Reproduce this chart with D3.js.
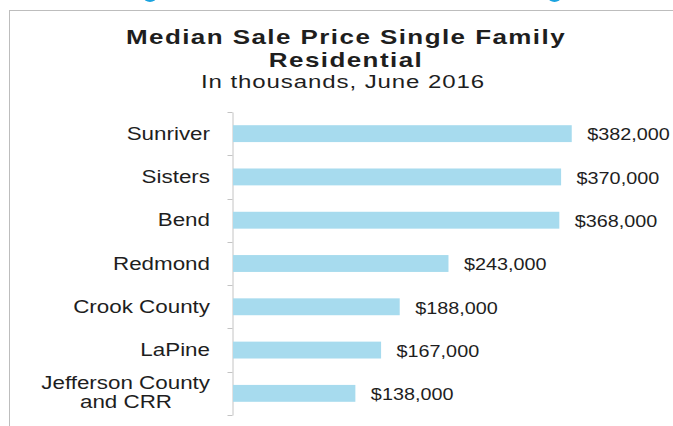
<!DOCTYPE html>
<html>
<head>
<meta charset="utf-8">
<script src="https://cdn.jsdelivr.net/npm/d3@7"></script>
<style>
  body { margin: 0; background: #fff; }
  svg { display: block; }
  text { font-family: "Liberation Sans", Arial, sans-serif; fill: #1e1e1e; }
</style>
</head>
<body>
<div id="chart"></div>
<script>
// median sale price, thousands of dollars
var categories = ["Sunriver", "Sisters", "Bend", "Redmond", "Crook County", "LaPine", "Jefferson County\nand CRR"];
var values = [382, 370, 368, 243, 188, 167, 138];
var titleLines = ["Median Sale Price Single Family", "Residential"];
var subtitle = "In thousands, June 2016";

var width = 673,
    height = 426;

var svg = d3.select("#chart")
  .append("svg")
    .attr("width", width)
    .attr("height", height);

// frame of the slide the chart was cut from
svg.append("line")
  .attr("x1", 9).attr("x2", width)
  .attr("y1", 10.5).attr("y2", 10.5)
  .style("stroke", "#bdbdbd");
svg.append("line")
  .attr("x1", 9.5).attr("x2", 9.5)
  .attr("y1", 10).attr("y2", height)
  .style("stroke", "#bdbdbd");

// bits of the heading above, cut off
[150, 554.5].forEach(function(cx) {
  svg.append("ellipse")
    .attr("cx", cx).attr("cy", -3)
    .attr("rx", 6.5).attr("ry", 5)
    .style("fill", "#1aa3df");
});

// title
titleLines.forEach(function(t, i) {
  svg.append("g")
    .attr("transform", "translate(346," + (44 + i * 23) + ") scale(1.3,1)")
    .append("text")
      .attr("text-anchor", "middle")
      .style("font-size", "20px")
      .style("font-weight", "bold")
      .style("letter-spacing", "1.1px")
      .text(t);
});
svg.append("g")
  .attr("transform", "translate(343,88) scale(1.3,1)")
  .append("text")
    .attr("text-anchor", "middle")
    .style("font-size", "18.5px")
    .style("letter-spacing", "0.7px")
    .text(subtitle);

var x = d3.scaleLinear()
  .domain([0, 400])
  .range([233, 587.7]);

var y = d3.scaleBand()
  .domain(categories)
  .range([112, 415])
  .paddingInner(0.61)
  .paddingOuter(0.305);

// axis line
svg.append("g")
  .attr("transform", "translate(232.5,0)")
  .call(d3.axisLeft(y).tickSize(0).tickSizeOuter(0).tickFormat(""))
  .call(function(g) { g.select(".domain").style("stroke", "#c4c4c4"); });

// ticks between categories
svg.append("g")
  .selectAll("line")
  .data(d3.range(categories.length + 1))
  .join("line")
    .attr("x1", 227.5).attr("x2", 232.5)
    .attr("y1", function(i) { return Math.round(y.range()[0] + i * y.step()) + 0.5; })
    .attr("y2", function(i) { return Math.round(y.range()[0] + i * y.step()) + 0.5; })
    .style("stroke", "#c4c4c4");

// bars
svg.append("g")
  .selectAll("rect")
  .data(values)
  .join("rect")
    .attr("x", x(0))
    .attr("y", function(d, i) { return y(categories[i]); })
    .attr("width", function(d) { return x(d) - x(0); })
    .attr("height", y.bandwidth())
    .style("fill", "#a7dbee");

// category labels
categories.forEach(function(c) {
  var lines = c.split("\n");
  var yc = y(c) + y.bandwidth() / 2;
  lines.forEach(function(l, i) {
    var dy = lines.length > 1 ? (i - (lines.length - 1) / 2) * 19 - 1 : 0;
    var lx = i === 0 ? 210 : 172;
    svg.append("g")
      .attr("transform", "translate(" + lx + "," + (yc + dy) + ") scale(1.28,1)")
      .append("text")
        .attr("text-anchor", "end")
        .attr("dy", "0.35em")
        .style("font-size", "17.5px")
        .text(l);
  });
});

// value labels
var fmt = d3.format(",");
values.forEach(function(v, i) {
  var yc = y(categories[i]) + y.bandwidth() / 2;
  svg.append("g")
    .attr("transform", "translate(" + (x(v) + 15.5) + "," + (yc + 1) + ") scale(1.2,1)")
    .append("text")
      .attr("dy", "0.35em")
      .style("font-size", "16.5px")
      .text("$" + fmt(v * 1000));
});
</script>
</body>
</html>
